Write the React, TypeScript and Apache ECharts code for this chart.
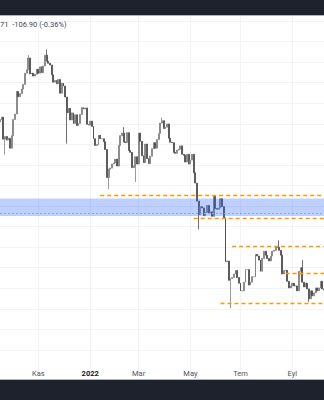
import React, { useEffect, useRef } from 'react';
import * as echarts from 'echarts';

// 2-day candles starting 2021-09-16 (closes in thousands)
const startDate = [2021, 8, 16];
const stepDays = 2;
const firstOpen = 47.1;
const closes = [
  47.7, 48.3, 43.0, 43.6, 42.8, 43.2, 41.0, 43.8, 47.7, 49.1,
  55.3, 53.8, 54.7, 56.0, 57.4, 60.9, 62.0, 66.0, 60.7, 60.9,
  60.0, 60.6, 62.2, 60.9, 63.0, 61.1, 63.3, 67.0, 64.9, 64.2,
  63.6, 60.4, 58.1, 58.6, 57.6, 58.9, 54.8, 57.8, 56.9, 53.7,
  49.4, 50.6, 47.6, 49.4, 46.7, 48.9, 46.2, 46.7, 49.0, 50.8,
  50.4, 50.7, 46.5, 46.3, 47.3, 46.0, 43.1, 41.6, 41.8, 43.9,
  43.1, 43.1, 42.4, 40.7, 35.1, 36.7, 36.9, 37.7, 37.9, 38.7,
  37.3, 41.6, 43.8, 44.4, 42.4, 42.2, 44.5, 40.5, 40.1, 37.0,
  37.3, 39.2, 37.7, 44.4, 42.5, 39.4, 38.0, 41.9, 38.8, 37.8,
  39.3, 40.9, 42.2, 41.0, 42.9, 44.3, 46.8, 47.4, 45.5, 45.8,
  46.6, 43.2, 42.3, 42.2, 40.1, 39.9, 40.6, 40.8, 41.5, 39.7,
  39.5, 38.1, 39.7, 37.7, 38.5, 39.7, 36.0, 34.1, 31.0, 28.9,
  30.1, 29.9, 28.7, 29.2, 30.3, 29.1, 29.3, 28.6, 31.8, 29.8,
  29.7, 29.9, 31.4, 30.1, 28.4, 22.5, 22.6, 20.4, 20.6, 20.7,
  21.1, 21.5, 20.7, 20.1, 19.3, 19.3, 20.2, 21.6, 21.6, 19.9,
  20.2, 20.8, 20.8, 23.4, 23.2, 22.7, 21.4, 22.9, 23.8, 23.3,
  22.9, 22.6, 23.2, 23.8, 23.9, 24.4, 24.3, 23.9, 23.3, 21.1,
  21.5, 21.5, 20.3, 19.6, 19.8, 20.1, 19.8, 19.8, 19.3, 21.4,
  21.8, 20.2, 19.7, 20.1, 19.5, 18.5, 19.3, 18.8, 19.1, 19.6,
  19.3, 19.6, 20.3, 19.5, 19.4,
];
// [candle index, wick extreme] (thousands)
const spikeLows = [[3, 39.6], [40, 42.0], [65, 33.0], [81, 34.3], [119, 26.7], [138, 17.6], [185, 18.2]];
const spikeHighs = [[17, 67.0], [28, 69.0], [74, 45.8], [97, 48.2], [167, 25.2], [181, 22.7]];

const monthNames = ['Oca', 'Şub', 'Mar', 'Nis', 'May', 'Haz', 'Tem', 'Ağu', 'Eyl', 'Eki', 'Kas', 'Ara'];
const headerText = '71  -106.90 (-0.36%)';

// zone & levels (thousands)
const zoneLow = 28.64;
const zoneHigh = 31.43;
const zoneMid = 29.1;
const levelStarts = [60, 116, 139, 171, 132];
const levelValues = [31.9, 28.39, 24.45, 21.2, 18.1];

const B = 1.1147;
const BOTTOM_EDGE = 370.56;

export default function App() {
  const ref = useRef<HTMLDivElement>(null);
  useEffect(() => {
    document.body.style.margin = '0';
    const chart = echarts.init(ref.current!, undefined, { renderer: 'svg' });
    const d0 = Date.UTC(startDate[0], startDate[1], startDate[2]);
    const dates: string[] = closes.map((_, i) => new Date(d0 + i * stepDays * 86400000).toISOString().slice(0, 10));
    const monthOf = (i: number) => +dates[i].slice(5, 7) - 1;
    const isLabel = (i: number) => i > 0 && monthOf(i) !== monthOf(i - 1) && monthOf(i) % 2 === 0;
    const candles = closes.map((c, i) => {
      const o = i === 0 ? firstOpen : closes[i - 1];
      let lo = Math.min(o, c);
      let hi = Math.max(o, c);
      const sl = spikeLows.find((s) => s[0] === i);
      if (sl) lo = Math.min(lo, sl[1]);
      const sh = spikeHighs.find((s) => s[0] === i);
      if (sh) hi = Math.max(hi, sh[1]);
      return [o * 1000, c * 1000, lo * 1000, hi * 1000];
    });
    const last = closes.length - 1;
    const orange = { color: '#ff9800', width: 1.3, type: [4, 3] as any };
    const lineData: any[] = levelValues.map((v, k) => [
      { coord: [levelStarts[k], v * 1000], lineStyle: orange },
      { coord: [last, v * 1000] },
    ]);
    lineData.push([
      { coord: [0, zoneMid * 1000], lineStyle: { color: '#97a6d8', width: 1, type: [2, 2] } },
      { coord: [last, zoneMid * 1000] },
    ]);
    chart.setOption({
      animation: false,
      grid: { left: 0, right: 0, top: 16, bottom: 400 - BOTTOM_EDGE },
      xAxis: {
        type: 'category',
        data: dates,
        boundaryGap: false,
        axisLine: { show: false },
        axisTick: { show: false },
        axisLabel: {
          interval: (i: number) => isLabel(i),
          formatter: (v: string) => {
            const m = +v.slice(5, 7) - 1;
            return m === 0 ? '{y|' + v.slice(0, 4) + '}' : monthNames[m];
          },
          rich: { y: { fontWeight: 'bold', color: '#131722', fontSize: 7.5, fontFamily: 'Roboto' } },
          fontSize: 7.5,
          fontFamily: 'Roboto',
          color: '#50535e',
          margin: 2.5,
          verticalAlign: 'middle',
        },
        splitLine: { show: true, interval: (i: number) => isLabel(i), lineStyle: { color: '#f2f3f5', width: 1 } },
      },
      yAxis: {
        type: 'log',
        logBase: B,
        min: Math.pow(B, 87),
        max: Math.pow(B, 104.243),
        interval: 1,
        axisLine: { show: false },
        axisTick: { show: false },
        axisLabel: { show: false },
        splitLine: { show: true, showMinLine: false, showMaxLine: false, lineStyle: { color: '#f2f3f5', width: 1 } },
      },
      series: [
        {
          type: 'candlestick',
          data: candles,
          barWidth: '85%',
          itemStyle: { color: '#808080', color0: '#4a4a4a', borderColor: '#808080', borderColor0: '#4a4a4a', borderWidth: 0.8 },
          markArea: {
            silent: true,
            z: 3,
            itemStyle: { color: 'rgba(41,98,255,0.3)' },
            data: [[{ yAxis: zoneLow * 1000 }, { yAxis: zoneHigh * 1000 }]],
          },
          markLine: {
            silent: true,
            symbol: 'none',
            label: { show: false },
            data: lineData,
          },
        },
      ],
      graphic: [
        { type: 'rect', z: 100, shape: { x: 0, y: 0, width: 324, height: 15 }, style: { fill: '#1e222d' } },
        { type: 'rect', z: 100, shape: { x: 0, y: 15, width: 324, height: 1 }, style: { fill: '#b2b5be' } },
        { type: 'rect', z: 100, shape: { x: 0, y: 380, width: 324, height: 20 }, style: { fill: '#1e222d' } },
        { type: 'rect', z: 100, shape: { x: 0, y: 379, width: 324, height: 1 }, style: { fill: '#b2b5be' } },
        {
          type: 'text', z: 100, x: 0, y: 24,
          style: { text: headerText, fontSize: 7.5, fontFamily: 'Roboto', fill: '#434651', verticalAlign: 'middle' },
        },
      ],
    });
    return () => chart.dispose();
  }, []);
  return <div ref={ref} style={{ position: 'absolute', left: 0, top: 0, width: 324, height: 400 }} />;
}
